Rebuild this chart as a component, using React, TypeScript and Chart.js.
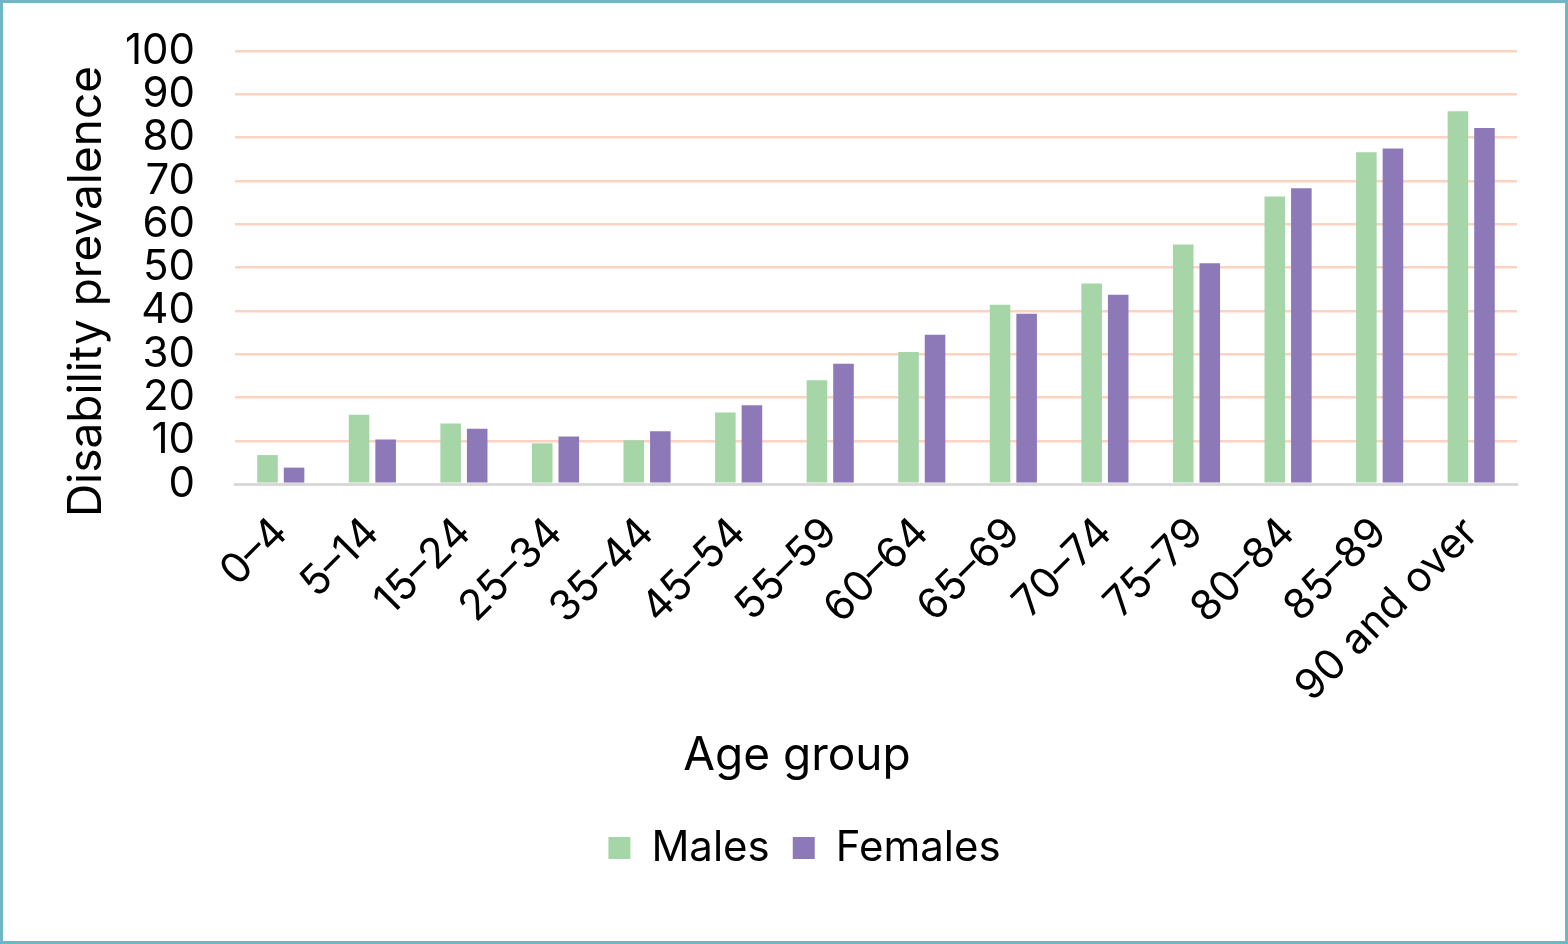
import React, { useEffect, useRef } from "react";
import { Chart, registerables } from "chart.js";

Chart.register(...registerables);

const categories = ["0–4", "5–14", "15–24", "25–34", "35–44", "45–54", "55–59", "60–64", "65–69", "70–74", "75–79", "80–84", "85–89", "90 and over"];
const males = [6.7, 16.0, 14.0, 9.4, 10.1, 16.5, 24.0, 30.5, 41.4, 46.3, 55.3, 66.4, 76.6, 86.1];
const females = [3.8, 10.3, 12.8, 11.0, 12.2, 18.2, 27.8, 34.5, 39.3, 43.7, 51.0, 68.3, 77.5, 82.2];
const yTicks = [0, 10, 20, 30, 40, 50, 60, 70, 80, 90, 100];

const FONT = "Inter, 'Noto Sans', sans-serif";
const TITLE_X = "Age group";
const TITLE_Y = "Disability prevalence";
const TITLE_SIZE = 46;
const TITLE_LH = TITLE_SIZE * 1.2;
const X_TITLE_PAD = { top: -7, bottom: 20 };
const Y_TITLE_PAD = { top: 40, bottom: 14 };

export default function App() {
  const ref = useRef<HTMLCanvasElement | null>(null);

  useEffect(() => {
    document.body.style.margin = "0";
    const canvas = ref.current;
    if (!canvas) return;

    const titlePlugin = {
      id: "customTitles",
      afterLayout(chart: any) {
        if (chart.legend) {
          chart.legend.left += 36;
          chart.legend.right += 36;
        }
      },
      afterDraw(chart: any) {
        const ctx = chart.ctx;
        const xs = chart.scales.x;
        const ys = chart.scales.y;
        ctx.save();
        ctx.fillStyle = "#000000";
        ctx.font = `${TITLE_SIZE}px ${FONT}`;
        ctx.textAlign = "center";
        ctx.textBaseline = "middle";
        const xTitleY = xs.bottom - X_TITLE_PAD.bottom - TITLE_LH / 2;
        ctx.fillText(TITLE_X, chart.width / 2 + 13, xTitleY);
        const yTitleX = ys.left + Y_TITLE_PAD.top + TITLE_LH / 2;
        ctx.translate(yTitleX, (ys.top + ys.bottom) / 2 + 24);
        ctx.rotate(-Math.PI / 2);
        ctx.fillText(TITLE_Y, 0, 0);
        ctx.restore();
      },
    };

    const chart = new Chart(canvas, {
      type: "bar",
      data: {
        labels: categories,
        datasets: [
          {
            label: "Males",
            data: males,
            backgroundColor: "#a6d5a7",
            categoryPercentage: 0.58,
            barPercentage: 0.775,
          },
          {
            label: "Females",
            data: females,
            backgroundColor: "#8e79b8",
            categoryPercentage: 0.58,
            barPercentage: 0.775,
          },
        ],
      },
      options: {
        responsive: false,
        animation: false,
        maintainAspectRatio: false,
        layout: { padding: { top: 48, left: 17, right: 48, bottom: 62 } },
        plugins: {
          legend: {
            position: "bottom",
            labels: {
              color: "#000000",
              font: { family: FONT, size: 42 },
              boxWidth: 22,
              boxHeight: 22,
              padding: 23,
            },
          },
          tooltip: { enabled: false },
        },
        scales: {
          x: {
            afterFit: (s: any) => {
              s.paddingLeft = 0;
              s.paddingRight = 0;
            },
            grid: { display: false, drawTicks: false },
            border: { display: true, color: "#d9d9d9", width: 3 },
            ticks: {
              color: "#000000",
              font: { family: FONT, size: 42 },
              maxRotation: 45,
              minRotation: 45,
              autoSkip: false,
              padding: 24,
            },
            title: {
              display: true,
              text: TITLE_X,
              color: "rgba(0,0,0,0)",
              font: { family: FONT, size: TITLE_SIZE },
              padding: X_TITLE_PAD,
            },
          },
          y: {
            min: 0,
            max: 100,
            afterBuildTicks: (scale: any) => {
              scale.ticks = yTicks.map((v) => ({ value: v }));
            },
            afterFit: (s: any) => {
              s.width = 215;
              s.paddingTop = 0;
              s.paddingBottom = 0;
            },
            grid: {
              drawTicks: false,
              color: (c: any) => (c.tick && c.tick.value === 0 ? "#d9d9d9" : "#fcd3c0"),
              lineWidth: (c: any) => (c.tick && c.tick.value === 0 ? 3 : 2.5),
            },
            border: { display: false },
            ticks: {
              color: "#000000",
              font: { family: FONT, size: 42 },
              padding: 40,
              autoSkip: false,
            },
            title: {
              display: true,
              text: TITLE_Y,
              color: "rgba(0,0,0,0)",
              font: { family: FONT, size: TITLE_SIZE },
              padding: Y_TITLE_PAD,
            },
          },
        },
      },
      plugins: [titlePlugin],
    } as any);

    return () => chart.destroy();
  }, []);

  return (
    <div
      style={{
        width: 1568,
        height: 944,
        boxSizing: "border-box",
        border: "3px solid #6fb7c5",
        background: "#ffffff",
      }}
    >
      <canvas ref={ref} width={1562} height={938} style={{ display: "block" }} />
    </div>
  );
}
